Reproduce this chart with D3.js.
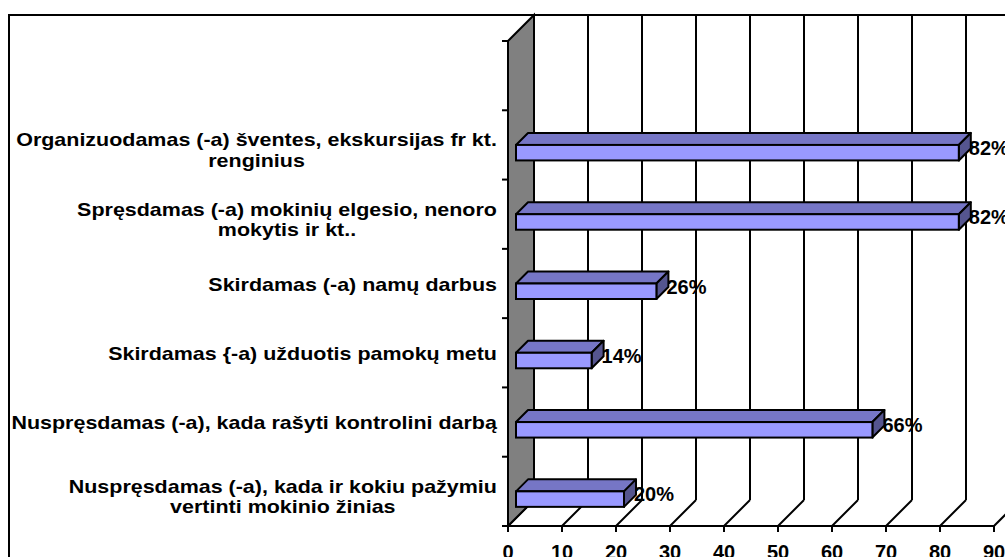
<!DOCTYPE html>
<html lang="lt">
<head>
<meta charset="UTF-8">
<title>3D bar chart</title>
<script src="https://cdn.jsdelivr.net/npm/d3@7/dist/d3.min.js"></script>
<style>
  body { margin: 0; background: #fff; }
  text { font-family: Arial, "Liberation Sans", sans-serif; font-weight: bold; fill: #000; }
</style>
</head>
<body>
<script>
  // data, top to bottom ("\n" marks a line break)
  var categories = [
    "Organizuodamas (-a) šventes, ekskursijas fr kt.\nrenginius",
    "Spręsdamas (-a) mokinių elgesio, nenoro\nmokytis ir kt..",
    "Skirdamas (-a) namų darbus",
    "Skirdamas {-a) užduotis pamokų metu",
    "Nuspręsdamas (-a), kada rašyti kontrolini darbą",
    "Nuspręsdamas (-a), kada ir kokiu pažymiu\nvertinti mokinio žinias"
  ];
  var values = [82, 82, 26, 14, 66, 20];
  var xTicks = [0, 10, 20, 30, 40, 50, 60, 70, 80, 90];

  var width = 1005, height = 557;
  var depth = 26;              // 3d offset of the back wall
  var barFront = 8, barBack = 20, barH = 15.5;

  var svg = d3.select("body").append("svg")
      .attr("width", width).attr("height", height);

  // outer frame
  svg.append("rect").attr("x", 9).attr("y", 15)
      .attr("width", 1100).attr("height", 700)
      .attr("fill", "#fff").attr("stroke", "#000").attr("stroke-width", 2);

  var x = d3.scaleLinear().domain([0, 90]).range([508, 994]);
  // one empty band sits above the categories
  var y = d3.scaleBand().domain(["_empty"].concat(categories)).range([41, 526]);

  // back wall grid lines
  svg.append("g").selectAll("line").data(xTicks).join("line")
      .attr("x1", d => x(d) + depth).attr("x2", d => x(d) + depth)
      .attr("y1", 15).attr("y2", 526 - depth)
      .attr("stroke", "#000").attr("stroke-width", 2);

  // floor lines
  svg.append("g").selectAll("line").data(xTicks).join("line")
      .attr("x1", d => x(d)).attr("x2", d => x(d) + depth)
      .attr("y1", 526).attr("y2", 526 - depth)
      .attr("stroke", "#000").attr("stroke-width", 2);

  // side wall
  svg.append("path")
      .attr("d", d3.line()([[508, 41], [508 + depth, 41 - depth], [508 + depth, 526 - depth], [508, 526]]) + "Z")
      .attr("fill", "#808080").attr("stroke", "#000").attr("stroke-width", 2);

  // front axis line and ticks
  svg.append("line").attr("x1", x(0)).attr("x2", x(90)).attr("y1", 526).attr("y2", 526)
      .attr("stroke", "#000").attr("stroke-width", 2);
  svg.append("g").selectAll("line").data(xTicks).join("line")
      .attr("x1", d => x(d)).attr("x2", d => x(d))
      .attr("y1", 526).attr("y2", 532)
      .attr("stroke", "#000").attr("stroke-width", 2);
  svg.append("g").selectAll("text").data(xTicks).join("text")
      .attr("x", d => x(d)).attr("y", 559)
      .attr("text-anchor", "middle").style("font-size", "20px")
      .text(d => d);

  // category axis ticks
  var bounds = y.domain().map(d => y(d)).concat([526]);
  svg.append("g").selectAll("line").data(bounds).join("line")
      .attr("x1", 502).attr("x2", 508).attr("y1", d => d).attr("y2", d => d)
      .attr("stroke", "#000").attr("stroke-width", 2);

  // category labels: the reference type is a little wide, so stretch it
  var labelRight = 497, sx = 1.13;
  categories.forEach(function(c) {
    var lines = c.split("\n");
    var cy = y(c) + y.bandwidth() / 2;
    var g = svg.append("g");
    var t = g.selectAll("text").data(lines).join("text")
        .attr("text-anchor", "middle")
        .style("font-size", "19px").text(d => d);
    var w = d3.max(t.nodes(), n => n.getComputedTextLength()) * sx;
    var base = lines.length > 1 ? cy + 1.5 : cy + 7;
    t.attr("transform", (d, i) =>
        "translate(" + (labelRight - w / 2) + "," + (base + i * 20.5) + ") scale(" + sx + ",1)");
  });

  // value labels (sit behind the bars)
  svg.append("g").selectAll("text").data(values).join("text")
      .attr("x", d => x(d) + barFront + 10)
      .attr("y", (d, i) => y(categories[i]) + y.bandwidth() / 2 + 10)
      .style("font-size", "20px")
      .text(d => d + "%");

  // bars
  var dd = barBack - barFront;
  var bars = svg.append("g").selectAll("g").data(values).join("g");
  bars.each(function(v, i) {
    var g = d3.select(this);
    var top = y(categories[i]) + y.bandwidth() / 2;
    var x0 = x(0) + barFront, x1 = x(v) + barFront;
    // top face
    g.append("path")
      .attr("d", d3.line()([[x0, top], [x0 + dd, top - dd], [x1 + dd, top - dd], [x1, top]]) + "Z")
      .attr("fill", "#7676c6").attr("stroke", "#000").attr("stroke-width", 2)
      .attr("stroke-linejoin", "round");
    // side face
    g.append("path")
      .attr("d", d3.line()([[x1, top], [x1 + dd, top - dd], [x1 + dd, top - dd + barH], [x1, top + barH]]) + "Z")
      .attr("fill", "#55558f").attr("stroke", "#000").attr("stroke-width", 2)
      .attr("stroke-linejoin", "round");
    // front face
    g.append("rect").attr("x", x0).attr("y", top)
      .attr("width", x1 - x0).attr("height", barH)
      .attr("fill", "#9999ff").attr("stroke", "#000").attr("stroke-width", 2);
  });
</script>
</body>
</html>
